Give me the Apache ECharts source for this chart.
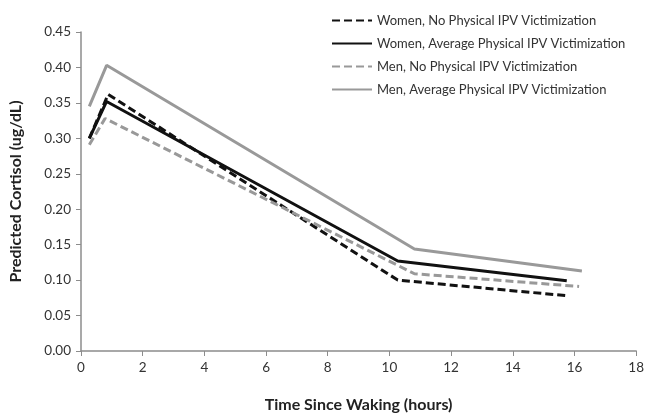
<!DOCTYPE html>
<html>
<head>
<meta charset="utf-8">
<script src="https://cdn.jsdelivr.net/npm/echarts@6/dist/echarts.min.js"></script>
<style>
  html, body { margin: 0; padding: 0; background: #fff; }
  #chart { width: 647px; height: 418px; }
</style>
</head>
<body>
<div id="chart"></div>
<script>
// [hours since waking, predicted cortisol]
const womenNone = [[0.27, 0.300], [0.88, 0.362], [10.27, 0.100], [15.75, 0.078]];
const womenAvg = [[0.27, 0.300], [0.83, 0.352], [10.27, 0.127], [15.75, 0.099]];
const menNone = [[0.27, 0.291], [0.78, 0.328], [10.81, 0.109], [16.15, 0.091]];
const menAvg = [[0.27, 0.345], [0.83, 0.403], [10.81, 0.144], [16.24, 0.113]];

const seriesNames = [
  'Women, No Physical IPV Victimization',
  'Women, Average Physical IPV Victimization',
  'Men, No Physical IPV Victimization',
  'Men, Average Physical IPV Victimization'
];

const font = 'Lato, "Open Sans", sans-serif';
const axisGray = '#8c8c8c';

const chart = echarts.init(document.getElementById('chart'));

function line(name, data, color, dashed) {
  return {
    name: name,
    type: 'line',
    data: data,
    symbol: 'none',
    lineStyle: {
      color: color,
      width: 3,
      type: dashed ? [8, 4] : 'solid'
    },
    itemStyle: { color: color },
    animation: false
  };
}

chart.setOption({
  animation: false,
  grid: { left: 81, right: 10, top: 32, bottom: 63 },
  legend: {
    orient: 'vertical',
    left: 326,
    top: 9,
    itemWidth: 40,
    itemHeight: 10,
    itemGap: 10,
    itemStyle: { opacity: 0 },
    textStyle: { fontFamily: font, fontSize: 13, color: '#333' },
    data: seriesNames
  },
  xAxis: {
    type: 'value',
    min: 0,
    max: 18,
    interval: 2,
    name: 'Time Since Waking (hours)',
    nameLocation: 'middle',
    nameGap: 46,
    nameTextStyle: { fontFamily: font, fontSize: 16, fontWeight: 'bold', color: '#222' },
    axisLine: { show: true, lineStyle: { color: axisGray, width: 1.5 } },
    axisTick: { show: true, length: 5, lineStyle: { color: axisGray } },
    axisLabel: { fontFamily: font, fontSize: 13.5, color: '#333', margin: 10 },
    splitLine: { show: false }
  },
  yAxis: {
    type: 'value',
    min: 0,
    max: 0.45,
    interval: 0.05,
    name: 'Predicted Cortisol (ug/dL)',
    nameLocation: 'middle',
    nameGap: 57,
    nameTextStyle: { fontFamily: font, fontSize: 16, fontWeight: 'bold', color: '#222' },
    axisLine: { show: true, lineStyle: { color: axisGray, width: 1.5 } },
    axisTick: { show: true, length: 5, lineStyle: { color: axisGray } },
    axisLabel: {
      fontFamily: font, fontSize: 13.5, color: '#333', margin: 10,
      formatter: v => v.toFixed(2)
    },
    splitLine: { show: false }
  },
  series: [
    line(seriesNames[0], womenNone, '#111', true),
    line(seriesNames[1], womenAvg, '#111', false),
    line(seriesNames[2], menNone, '#999', true),
    line(seriesNames[3], menAvg, '#999', false)
  ]
});
</script>
</body>
</html>
